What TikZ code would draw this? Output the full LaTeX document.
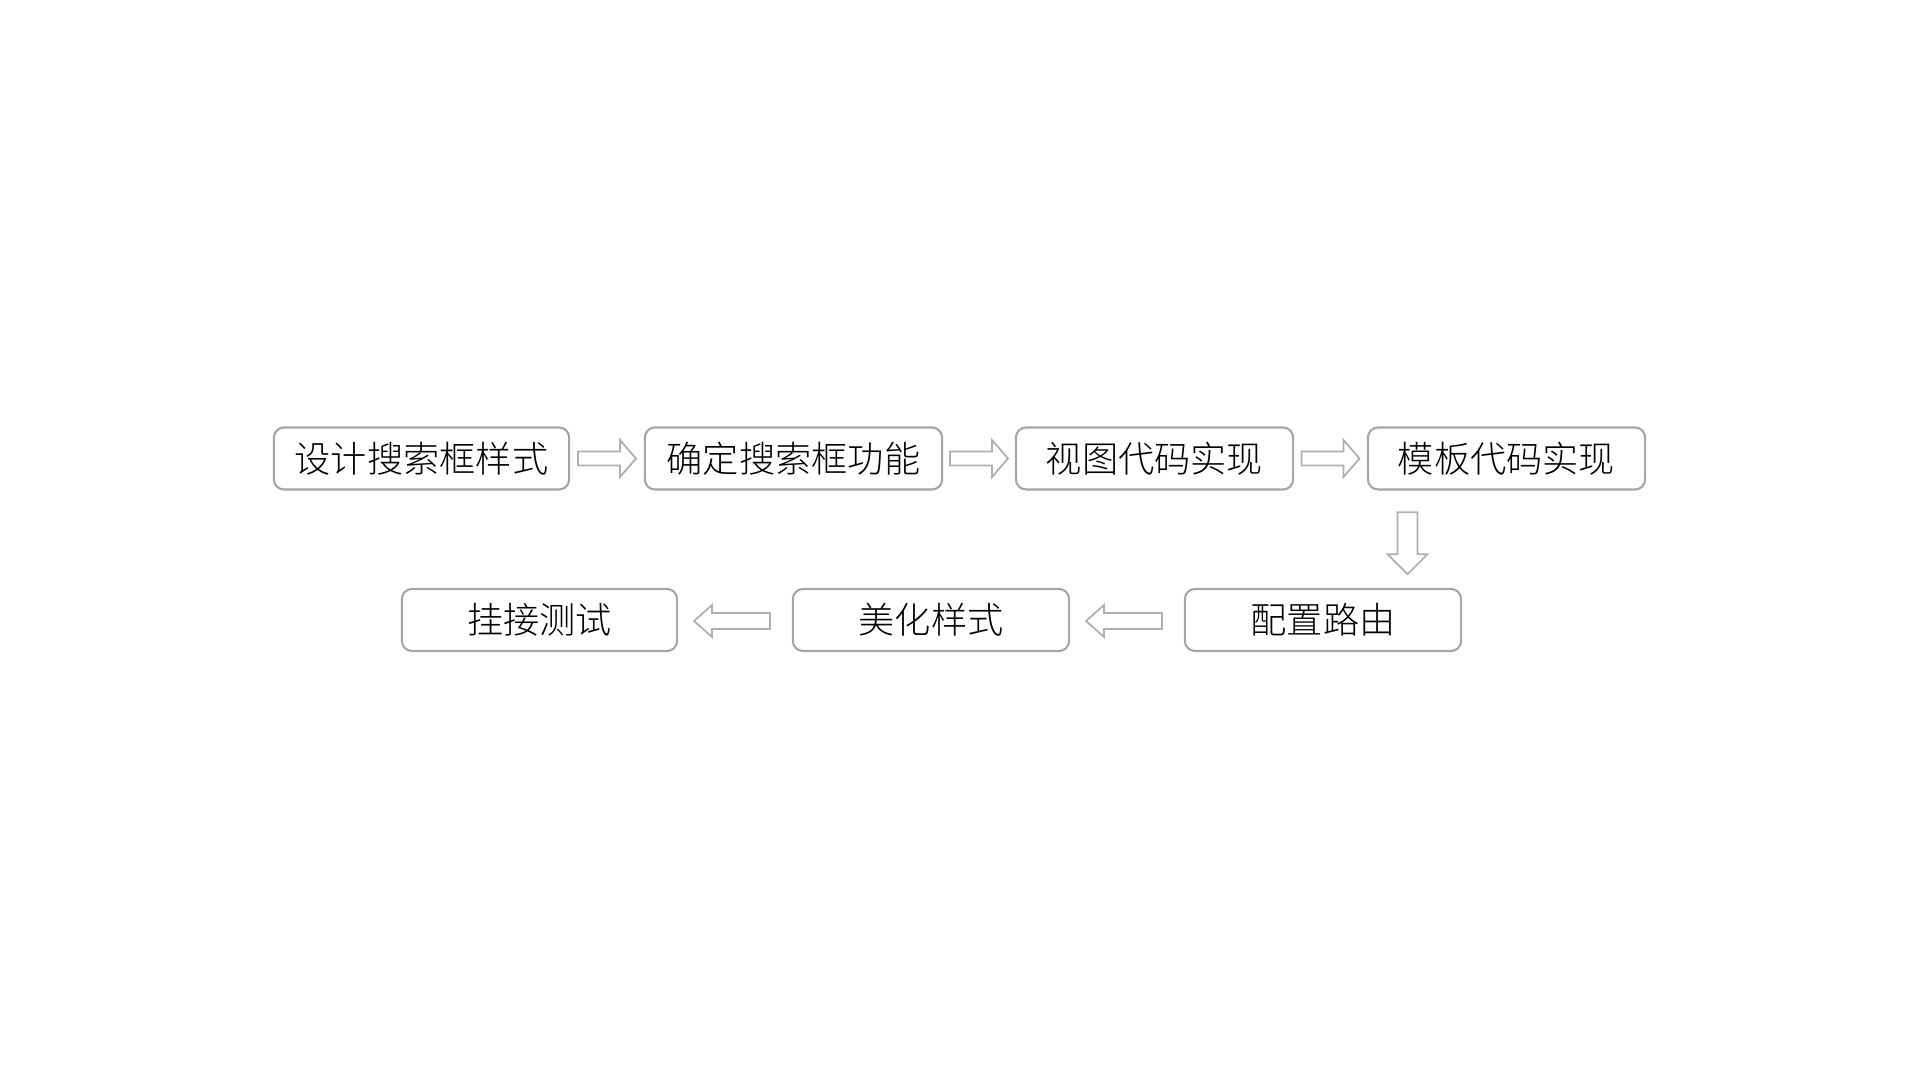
\documentclass[tikz,border=0pt]{standalone}
\usepackage{fontspec}
\newfontfamily\cjk{Noto Sans CJK SC}[UprightFont=* Light]
\usetikzlibrary{calc}

\definecolor{boxgray}{RGB}{165,165,165}
\definecolor{arrowgray}{RGB}{175,175,175}

\tikzset{
  stepbox/.style={draw=boxgray, line width=0.6pt, rounded corners=0.1cm,
    minimum height=0.62cm, inner sep=0pt, font=\cjk\fontsize{10.3pt}{12pt}\selectfont},
  hollowarrow/.pic={
    % length / shaft half / head half / head length
    \draw[arrowgray, line width=0.5pt, fill=white]
      ({-\arrlen/2},{-\arrshaft}) -- ({\arrlen/2-\arrhead},{-\arrshaft})
      -- ({\arrlen/2-\arrhead},{-\arrtip}) -- ({\arrlen/2},0)
      -- ({\arrlen/2-\arrhead},{\arrtip}) -- ({\arrlen/2-\arrhead},{\arrshaft})
      -- ({-\arrlen/2},{\arrshaft}) -- cycle;
  }
}
\newcommand{\setarrow}[4]{\def\arrlen{#1}\def\arrshaft{#2}\def\arrtip{#3}\def\arrhead{#4}}

\begin{document}
\begin{tikzpicture}[x=0.01cm, y=-0.01cm]
    \useasboundingbox (0,0) rectangle (1920,1080);

    % top row
    \node[stepbox, minimum width=2.95cm] (b1) at (421.5,458.5) {设计搜索框样式};
    \node[stepbox, minimum width=2.97cm] (b2) at (793.5,458.5) {确定搜索框功能};
    \node[stepbox, minimum width=2.77cm] (b3) at (1154.5,458.5) {视图代码实现};
    \node[stepbox, minimum width=2.77cm] (b4) at (1506.5,458.5) {模板代码实现};
    % bottom row
    \node[stepbox, minimum width=2.76cm] (b7) at (1323,620) {配置路由};
    \node[stepbox, minimum width=2.76cm] (b6) at (931,620) {美化样式};
    \node[stepbox, minimum width=2.75cm] (b5) at (539.5,620) {挂接测试};

    \setarrow{58}{7}{18.5}{16}
    \pic at ($(b1.east)!0.5!(b2.west)$) {hollowarrow};
    \pic at ($(b2.east)!0.5!(b3.west)$) {hollowarrow};
    \pic at ($(b3.east)!0.5!(b4.west)$) {hollowarrow};

    \setarrow{62}{10}{20}{20}
    \pic[rotate=-90] at ($(b4.south west)!0.5!(b7.north east)+(-7,4)$) {hollowarrow};

    \setarrow{76}{8}{16}{18}
    \pic[rotate=180] at ($(b7.west)!0.5!(b6.east)+(-3,1)$) {hollowarrow};
    \pic[rotate=180] at ($(b6.west)!0.5!(b5.east)+(-3,1)$) {hollowarrow};
\end{tikzpicture}
\end{document}
